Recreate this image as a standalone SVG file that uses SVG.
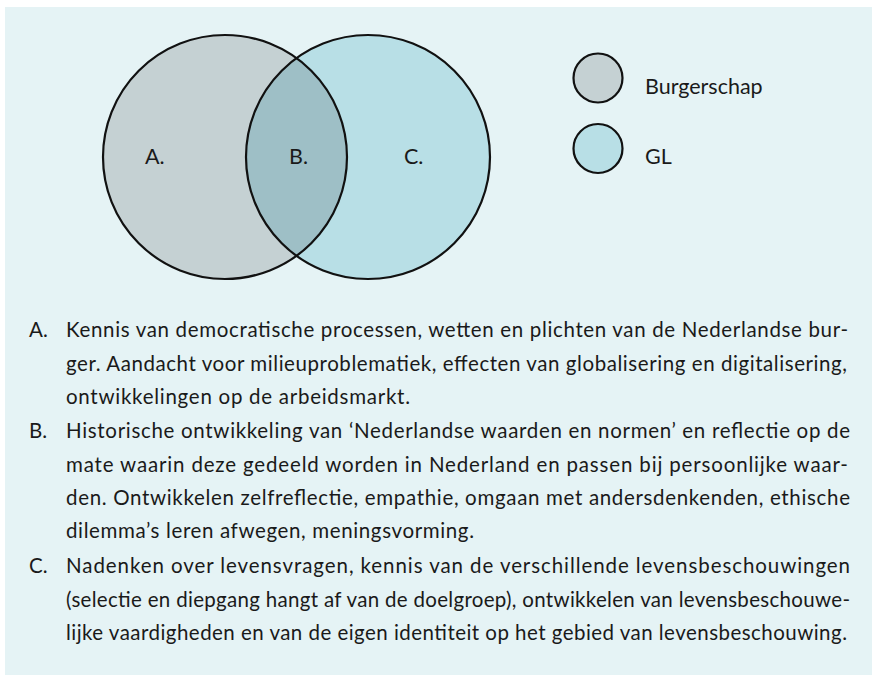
<svg xmlns="http://www.w3.org/2000/svg" width="872" height="675" viewBox="0 0 872 675">
<style>
  .lbl { font-family: Lato, "Open Sans", "Liberation Sans", sans-serif; font-size: 21.5px; fill: #1a1a1a; }
  .body { font-family: Lato, "Open Sans", "Liberation Sans", sans-serif; font-size: 20.5px; fill: #1a1a1a; }
  .ring { stroke: #111; stroke-width: 2.2; }
  .gray { fill: #C5D1D3; }
  .blue { fill: #B8DFE6; }
</style>
<defs>
  <clipPath id="clipLeft"><circle cx="225" cy="157" r="122"/></clipPath>
</defs>
<rect x="5" y="7" width="867" height="668" fill="#E5F3F5"/>

<g id="venn">
  <g id="burgerschap-circle"><circle class="gray" cx="225" cy="157" r="122"/></g>
  <g id="gl-circle"><circle class="blue" cx="368" cy="157" r="122"/></g>
  <g id="overlap"><circle cx="368" cy="157" r="122" fill="#9EBFC6" clip-path="url(#clipLeft)"/></g>
  <circle cx="225" cy="157" r="122" fill="none" class="ring"/>
  <circle cx="368" cy="157" r="122" fill="none" class="ring"/>
  <text class="lbl" x="145" y="164">A.</text>
  <text class="lbl" x="289" y="164">B.</text>
  <text class="lbl" x="404" y="164">C.</text>
</g>

<g id="legend-burgerschap">
  <circle class="gray ring" cx="598" cy="78" r="24.5"/>
  <text class="lbl" x="645" y="94">Burgerschap</text>
</g>
<g id="legend-gl">
  <circle class="blue ring" cx="598" cy="148.5" r="24.5"/>
  <text class="lbl" x="645" y="164">GL</text>
</g>

<g id="list">
  <text class="body" x="29" y="337">A.</text>
  <text class="body" x="66" y="337" textLength="782" lengthAdjust="spacing">Kennis van democratische processen, wetten en plichten van de Nederlandse bur-</text>
  <text class="body" x="66" y="371" textLength="781" lengthAdjust="spacing">ger. Aandacht voor milieuproblematiek, effecten van globalisering en digitalisering,</text>
  <text class="body" x="66" y="404" textLength="344" lengthAdjust="spacing">ontwikkelingen op de arbeidsmarkt.</text>

  <text class="body" x="29" y="438">B.</text>
  <text class="body" x="66" y="438" textLength="784" lengthAdjust="spacing">Historische ontwikkeling van ‘Nederlandse waarden en normen’ en reflectie op de</text>
  <text class="body" x="66" y="472" textLength="782" lengthAdjust="spacing">mate waarin deze gedeeld worden in Nederland en passen bij persoonlijke waar-</text>
  <text class="body" x="66" y="505" textLength="784" lengthAdjust="spacing">den. Ontwikkelen zelfreflectie, empathie, omgaan met andersdenkenden, ethische</text>
  <text class="body" x="66" y="538" textLength="408" lengthAdjust="spacing">dilemma’s leren afwegen, meningsvorming.</text>

  <text class="body" x="29" y="573">C.</text>
  <text class="body" x="66" y="573" textLength="784" lengthAdjust="spacing">Nadenken over levensvragen, kennis van de verschillende levensbeschouwingen</text>
  <text class="body" x="66" y="607" textLength="784" lengthAdjust="spacing">(selectie en diepgang hangt af van de doelgroep), ontwikkelen van levensbeschouwe-</text>
  <text class="body" x="66" y="640" textLength="781" lengthAdjust="spacing">lijke vaardigheden en van de eigen identiteit op het gebied van levensbeschouwing.</text>
</g>
</svg>
